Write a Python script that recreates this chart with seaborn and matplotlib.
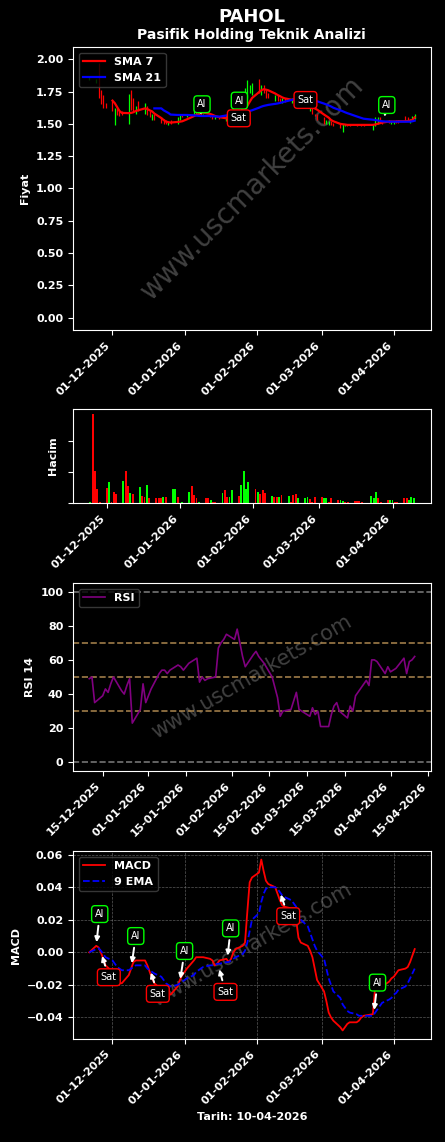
import pandas as pd
import numpy as np
import matplotlib
matplotlib.use("Agg")
import matplotlib.pyplot as plt
import matplotlib.dates as mdates
import seaborn as sns

# ------------------------------
# Data
# ------------------------------

dates = pd.bdate_range("2025-11-21", "2026-04-10", freq="C",
                       holidays=["2026-01-01", "2026-03-20"])

opens = [1.84, 1.82, 1.97, 1.76, 1.72, 1.66, 1.68, 1.49, 1.62, 1.60,
         1.60, 1.50, 1.76, 1.70, 1.58, 1.68, 1.58, 1.64, 1.60, 1.53,
         1.58, 1.55, 1.54, 1.53, 1.49, 1.53, 1.50, 1.53, 1.58, 1.55,
         1.56, 1.62, 1.60, 1.60, 1.57, 1.58, 1.57, 1.54, 1.56, 1.56,
         1.52, 1.58, 1.56, 1.54, 1.62, 1.74, 1.66, 1.70, 1.74, 1.72,
         1.85, 1.72, 1.80, 1.76, 1.74, 1.68, 1.72, 1.70, 1.66, 1.70,
         1.66, 1.70, 1.70, 1.69, 1.64, 1.62, 1.60, 1.63, 1.58, 1.58,
         1.55, 1.50, 1.49, 1.52, 1.51, 1.50, 1.44, 1.48, 1.50, 1.49,
         1.50, 1.50, 1.50, 1.49, 1.45, 1.48, 1.50, 1.55, 1.52, 1.53,
         1.50, 1.50, 1.53, 1.53, 1.56, 1.55, 1.51, 1.52, 1.54]
closes = [1.86, 1.85, 1.70, 1.65, 1.62, 1.62, 1.60, 1.62, 1.57, 1.56,
          1.57, 1.73, 1.61, 1.60, 1.64, 1.60, 1.66, 1.57, 1.55, 1.58,
          1.53, 1.51, 1.50, 1.50, 1.52, 1.50, 1.55, 1.58, 1.55, 1.58,
          1.62, 1.57, 1.57, 1.56, 1.58, 1.55, 1.54, 1.56, 1.55, 1.54,
          1.57, 1.53, 1.54, 1.64, 1.70, 1.68, 1.78, 1.84, 1.80, 1.82,
          1.74, 1.80, 1.74, 1.70, 1.70, 1.72, 1.68, 1.67, 1.70, 1.67,
          1.70, 1.68, 1.66, 1.65, 1.67, 1.65, 1.63, 1.58, 1.56, 1.53,
          1.50, 1.53, 1.52, 1.49, 1.48, 1.47, 1.50, 1.50, 1.48, 1.48,
          1.48, 1.49, 1.48, 1.48, 1.50, 1.55, 1.55, 1.51, 1.50, 1.51,
          1.52, 1.52, 1.51, 1.51, 1.52, 1.52, 1.54, 1.56, 1.58]

# volume starts one day later (24-11-2025)
volume = [0.03, 2.9, 1.05, 0.45, 0.05, 0.5, 0.67, 0.05, 0.35, 0.3,
          0.73, 1.05, 0.56, 0.34, 0.3, 0.52, 0.24, 0.2, 0.6, 0.15,
          0.17, 0.17, 0.15, 0.19, 0.18, 0.45, 0.47, 0.21, 0.02, 0.37,
          0.54, 0.27, 0.15, 0.02, 0.15, 0.17, 0.1, 0.03, 0.03, 0.34,
          0.41, 0.21, 0.21, 0.41, 0.24, 0.57, 1.05, 0.45, 0.67, 0.47,
          0.37, 0.3, 0.41, 0.32, 0.24, 0.19, 0.19, 0.2, 0.26, 0.24,
          0.05, 0.26, 0.3, 0.15, 0.17, 0.19, 0.13, 0.05, 0.21, 0.19,
          0.17, 0.17, 0.03, 0.15, 0.09, 0.09, 0.06, 0.03, 0.03, 0.06,
          0.06, 0.06, 0.02, 0.24, 0.17, 0.37, 0.15, 0.03, 0.09, 0.09,
          0.11, 0.02, 0.02, 0.17, 0.15, 0.11, 0.19, 0.15]

# SMA 7 from 01-12-2025, SMA 21 from 19-12-2025
sma7 = [1.68, 1.66, 1.63, 1.60, 1.585,
        1.583, 1.585, 1.59, 1.60, 1.605,
        1.62, 1.615, 1.605, 1.597, 1.58,
        1.545, 1.53, 1.517, 1.513, 1.51,
        1.515, 1.517, 1.52, 1.535,
        1.56, 1.568, 1.575, 1.583, 1.587,
        1.577, 1.57, 1.562, 1.556, 1.552,
        1.543, 1.548, 1.553, 1.56, 1.575,
        1.60, 1.62, 1.64, 1.67, 1.70,
        1.745, 1.76, 1.768, 1.765, 1.76,
        1.735, 1.724, 1.715, 1.705, 1.698,
        1.687, 1.685, 1.683, 1.68, 1.677,
        1.655, 1.642, 1.635, 1.62, 1.61,
        1.572, 1.56, 1.548, 1.53, 1.52,
        1.50, 1.497, 1.495, 1.492, 1.492,
        1.492, 1.492, 1.492, 1.492,
        1.492, 1.495, 1.50, 1.505, 1.51,
        1.518, 1.518, 1.518, 1.518, 1.52,
        1.52, 1.522, 1.525, 1.53, 1.55]
sma21 = [1.62,
         1.62, 1.605, 1.595, 1.585, 1.572,
         1.569, 1.569, 1.569, 1.569,
         1.566, 1.564, 1.562, 1.561, 1.561,
         1.561, 1.559, 1.558, 1.557, 1.556,
         1.565, 1.57, 1.575, 1.58, 1.583,
         1.586, 1.59, 1.596, 1.60, 1.605,
         1.625, 1.633, 1.639, 1.643, 1.647,
         1.655, 1.658, 1.662, 1.667, 1.672,
         1.685, 1.69, 1.69, 1.69, 1.69,
         1.688, 1.686, 1.685, 1.682, 1.675,
         1.657, 1.65, 1.643, 1.635, 1.625,
         1.605, 1.598, 1.59, 1.583, 1.577,
         1.558, 1.552, 1.546, 1.54,
         1.532, 1.53, 1.527, 1.523, 1.52,
         1.517, 1.517, 1.517, 1.517, 1.517,
         1.517, 1.517, 1.517, 1.52, 1.525]

# RSI 14 from 10-12-2025
rsi = [49, 50, 35,
       39, 43, 41, 46, 50,
       42, 40, 45, 49, 23,
       31, 46, 35, 43,
       52, 54, 54, 52, 54,
       57, 56, 54, 56, 58,
       61, 47, 50, 48, 49,
       50, 67, 70, 72, 75,
       72, 78, 70, 62, 56,
       63, 65, 62, 60, 58,
       50, 44, 38, 27, 30,
       31, 36, 41, 31, 30,
       27, 32, 28, 30, 21,
       21, 28, 33, 35, 30,
       26, 33, 30, 39,
       48, 45, 60, 60, 59,
       52, 56, 53, 54, 55,
       61, 52, 59, 60, 62]
rsi_levels = [100, 70, 50, 30, 0]
rsi_level_colors = ["gray", "#b08a50", "#b08a50", "#b08a50", "gray"]

macd = [0.000, 0.004, 0.003, 0.000, -0.004, -0.008,
        -0.012, -0.015, -0.018, -0.019, -0.019,
        -0.014, -0.010, -0.006, -0.005, -0.005,
        -0.005, -0.008, -0.012, -0.016, -0.019,
        -0.023, -0.026, -0.026, -0.025, -0.026,
        -0.021, -0.017, -0.014, -0.010,
        -0.005, -0.003, -0.003, -0.003, -0.003,
        -0.004, -0.005, -0.008, -0.007, -0.005,
        -0.004, -0.006, -0.004, 0.000, 0.002,
        0.004, 0.006, 0.025, 0.043, 0.046,
        0.049, 0.057, 0.050, 0.044, 0.042,
        0.040, 0.036, 0.032, 0.029, 0.028,
        0.027, 0.027, 0.020, 0.009, 0.006,
        0.004, 0.001, -0.003, -0.010, -0.017,
        -0.024, -0.030, -0.037, -0.040, -0.042,
        -0.046, -0.048, -0.046, -0.044, -0.043,
        -0.043, -0.042, -0.040, -0.039,
        -0.038, -0.021, -0.020, -0.021, -0.021,
        -0.018, -0.016, -0.015, -0.013, -0.011,
        -0.010, -0.009, -0.006, -0.002, 0.002]
signal = [0.000, 0.002, 0.0025, 0.001, -0.001, -0.003,
          -0.005, -0.007, -0.009, -0.010, -0.011,
          -0.011, -0.010, -0.009, -0.008, -0.008,
          -0.008, -0.010, -0.011, -0.012, -0.013,
          -0.015, -0.017, -0.019, -0.020, -0.021,
          -0.020, -0.019, -0.018, -0.016,
          -0.014, -0.012, -0.011, -0.010, -0.009,
          -0.008, -0.008, -0.008, -0.007, -0.007,
          -0.006, -0.006, -0.005, -0.004, -0.003,
          -0.001, 0.001, 0.006, 0.013, 0.020,
          0.024, 0.031, 0.036, 0.039, 0.040,
          0.040, 0.039, 0.037, 0.035, 0.034,
          0.032, 0.030, 0.028, 0.024, 0.020,
          0.016, 0.012, 0.008, 0.004, 0.001,
          -0.004, -0.010, -0.016, -0.020, -0.024,
          -0.028, -0.032, -0.034, -0.036, -0.037,
          -0.038, -0.039, -0.039, -0.039,
          -0.039, -0.037, -0.035, -0.033, -0.031,
          -0.029, -0.028, -0.026, -0.025, -0.023,
          -0.021, -0.019, -0.016, -0.013, -0.010]

# signal labels: (label, tip date, tip value, text date, text value)
price_signals = [
    ("Al", "2026-01-08", 1.583, "2026-01-08 12:00", 1.652),
    ("Al", "2026-01-26", 1.60, "2026-01-24 14:00", 1.68),
    ("Sat", "2026-01-23", 1.585, "2026-01-24 08:00", 1.543),
    ("Sat", "2026-02-20", 1.68, "2026-02-22", 1.685),
    ("Al", "2026-03-28", 1.556, "2026-03-29", 1.646),
]
macd_signals = [
    ("Al", "2025-11-24", 0.0045, "2025-11-25 12:00", 0.0235),
    ("Sat", "2025-11-26 04:00", -0.0006, "2025-11-29 10:00", -0.0153),
    ("Al", "2025-12-09 04:00", -0.0084, "2025-12-11", 0.010),
    ("Sat", "2025-12-17 04:00", -0.0108, "2025-12-20 12:00", -0.0255),
    ("Al", "2025-12-30", -0.018, "2026-01-01", 0.0008),
    ("Al", "2026-01-19 10:00", -0.0037, "2026-01-20 20:00", 0.0147),
    ("Sat", "2026-01-15 16:00", -0.0088, "2026-01-18 14:00", -0.0243),
    ("Sat", "2026-02-11", 0.0371, "2026-02-14 14:00", 0.0222),
    ("Al", "2026-03-23 10:00", -0.0371, "2026-03-25", -0.0186),
]

# ------------------------------
# Style
# ------------------------------

plt.style.use("dark_background")
plt.rcParams["font.family"] = ["DejaVu Sans"]
plt.rcParams["font.weight"] = "bold"
plt.rcParams["axes.labelweight"] = "bold"
plt.rcParams["axes.labelsize"] = 8
plt.rcParams["xtick.labelsize"] = 8
plt.rcParams["ytick.labelsize"] = 8

candle_colors = ["lime" if c >= o else "red" for o, c in zip(opens, closes)]
vol_colors = candle_colors[1:]

fig = plt.figure(figsize=(4.45, 11.42), dpi=100)
fig.patch.set_facecolor("black")

left, width = 0.164, 0.8045


def style_axis(ax, locator):
    ax.set_facecolor("black")
    for s in ax.spines.values():
        s.set_color("white")
    ax.xaxis.set_major_locator(locator)
    ax.xaxis.set_major_formatter(mdates.DateFormatter("%d-%m-%Y"))
    for lab in ax.get_xticklabels():
        lab.set_rotation(45)
        lab.set_ha("right")
    ax.set_xlabel("")


def watermark(ax, size, angle):
    ax.text(0.5, 0.5, "www.uscmarkets.com", transform=ax.transAxes,
            fontsize=size, color="gray", alpha=0.5, rotation=angle,
            ha="center", va="center", fontweight="normal", zorder=0)


def add_signals(ax, signals):
    for label, tip_d, tip_v, txt_d, txt_v in signals:
        ec = "lime" if label == "Al" else "red"
        ax.annotate(label, xy=(pd.Timestamp(tip_d), tip_v),
                    xytext=(pd.Timestamp(txt_d), txt_v),
                    color="white", fontsize=7, fontweight="normal",
                    ha="center", va="center",
                    bbox=dict(boxstyle="round,pad=0.35", fc="black", ec=ec, lw=1),
                    arrowprops=dict(arrowstyle="-|>", color="white", lw=1.4),
                    zorder=5)


def legend(ax):
    ax.legend(loc="upper left", fontsize=8, facecolor="black",
              edgecolor="#444444", framealpha=0.8)

# ------------------------------
# 1. Price + SMA
# ------------------------------

ax1 = fig.add_axes([left, 0.711, width, 0.2478])
ax1.vlines(dates, opens, closes, colors=candle_colors, linewidth=0.9)
sns.lineplot(x=dates[6:], y=sma7, ax=ax1, color="red", lw=1.6, label="SMA 7")
sns.lineplot(x=dates[20:], y=sma21, ax=ax1, color="blue", lw=1.6, label="SMA 21")
add_signals(ax1, price_signals)
ax1.set_ylim(-0.097, 2.095)
ax1.set_yticks([0, 0.25, 0.5, 0.75, 1.0, 1.25, 1.5, 1.75, 2.0])
ax1.set_ylabel("Fiyat")
style_axis(ax1, mdates.MonthLocator())
watermark(ax1, 20, 45)
legend(ax1)

fig.text(0.566, 0.985, "PAHOL", ha="center", va="center", fontsize=13,
         fontweight="bold", color="white")
fig.text(0.566, 0.969, "Pasifik Holding Teknik Analizi", ha="center",
         va="center", fontsize=10, fontweight="bold", color="white")

# ------------------------------
# 2. Volume
# ------------------------------

ax2 = fig.add_axes([left, 0.5595, width, 0.0823])
ax2.bar(dates[1:], volume, width=0.8, color=vol_colors)
ax2.set_yticks([0, 1, 2])
ax2.set_yticklabels([])
ax2.set_ylabel("Hacim")
style_axis(ax2, mdates.MonthLocator())

# ------------------------------
# 3. RSI
# ------------------------------

ax3 = fig.add_axes([left, 0.3249, width, 0.1646])
for lvl, c in zip(rsi_levels, rsi_level_colors):
    ax3.axhline(lvl, color=c, linestyle="--", linewidth=1.2, alpha=0.9)
sns.lineplot(x=dates[13:], y=rsi, ax=ax3, color="purple", lw=1.2, label="RSI")
ax3.set_ylim(-5, 105)
ax3.set_yticks([0, 20, 40, 60, 80, 100])
ax3.set_ylabel("RSI 14")
style_axis(ax3, mdates.DayLocator(bymonthday=[1, 15]))
watermark(ax3, 15, 30)
legend(ax3)

# ------------------------------
# 4. MACD
# ------------------------------

ax4 = fig.add_axes([left, 0.0902, width, 0.1646])
sns.lineplot(x=dates, y=macd, ax=ax4, color="red", lw=1.3, label="MACD")
sns.lineplot(x=dates, y=signal, ax=ax4, color="blue", lw=1.3,
             linestyle="--", label="9 EMA")
add_signals(ax4, macd_signals)
ax4.grid(True, color="gray", linestyle="--", linewidth=0.5, alpha=0.7)
ax4.set_ylabel("MACD")
style_axis(ax4, mdates.MonthLocator())
ax4.set_xlabel("Tarih: 10-04-2026")
watermark(ax4, 15, 30)
legend(ax4)

for ax in (ax1, ax2, ax3):
    ax.grid(False)

fig.savefig("out.png", dpi=100, facecolor="black")
